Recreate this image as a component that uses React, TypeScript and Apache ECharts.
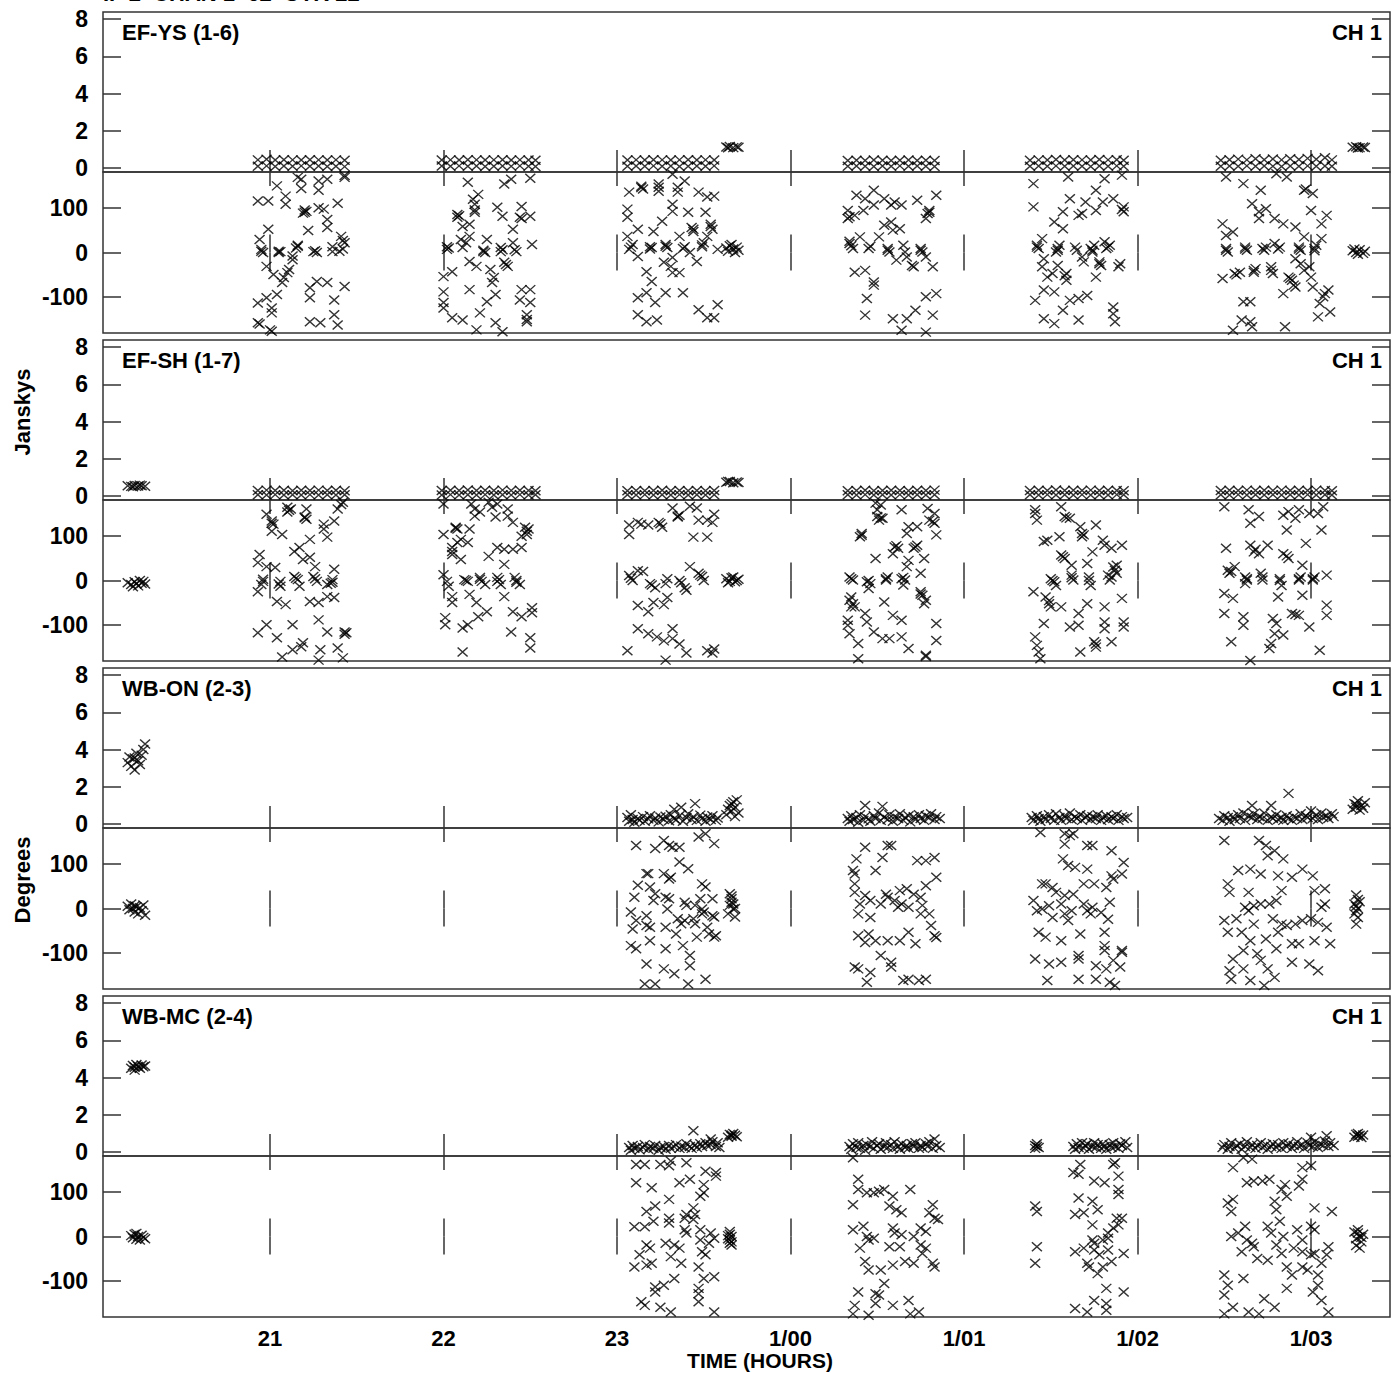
import React, { useEffect, useRef } from "react";
import * as echarts from "echarts";

const FONT = "'Liberation Sans', Arial, Helvetica, sans-serif";
const TITLE = "IF 2  CHAN 1  62  UTR 22";
const BASELINES = ["EF-YS (1-6)", "EF-SH (1-7)", "WB-ON (2-3)", "WB-MC (2-4)"];
const CHANNEL = "CH 1";
const X_TITLE = "TIME (HOURS)";
const AMP_TITLE = "Janskys";
const PHASE_TITLE = "Degrees";
const HOUR_TICKS = [21, 22, 23, 24, 25, 26, 27];
const HOUR_LABELS = ["21", "22", "23", "1/00", "1/01", "1/02", "1/03"];
const AMP_TICKS = [0, 2, 4, 6, 8];
const PHASE_TICKS = [-100, 0, 100];
const TIME_MIN = 20.0375;
const TIME_MAX = 27.455;
const AMP_MIN = -0.21;
const AMP_MAX = 8.38;
const PHASE_MIN = -180;
const PHASE_MAX = 180;

// ---- Panel 1: EF-YS (1-6) ----
// amplitude rows: [time, upper, lower]
const P1_AMP_ROWS = [
  [20.93,0.44,0.10],[20.98,0.47,0.12],[21.03,0.43,0.09],[21.08,0.45,0.11],[21.13,0.44,0.10],[21.18,0.43,0.12],[21.23,0.45,0.10],[21.28,0.44,0.11],[21.33,0.43,0.09],[21.38,0.44,0.10],[21.43,0.42,0.08],
  [21.99,0.43,0.11],[22.04,0.44,0.10],[22.09,0.43,0.12],[22.14,0.45,0.10],[22.19,0.44,0.11],[22.24,0.43,0.09],[22.29,0.44,0.10],[22.34,0.45,0.11],[22.39,0.43,0.10],[22.44,0.44,0.12],[22.49,0.43,0.10],[22.53,0.42,0.09],
  [23.06,0.43,0.10],[23.11,0.44,0.11],[23.16,0.43,0.10],[23.21,0.45,0.12],[23.26,0.44,0.10],[23.31,0.43,0.11],[23.36,0.44,0.09],[23.41,0.45,0.10],[23.46,0.43,0.11],[23.51,0.44,0.10],[23.56,0.43,0.12],
  [24.33,0.41,0.10],[24.38,0.42,0.11],[24.43,0.41,0.10],[24.48,0.43,0.09],[24.53,0.42,0.11],[24.58,0.41,0.10],[24.63,0.42,0.12],[24.68,0.43,0.10],[24.73,0.41,0.11],[24.78,0.42,0.10],[24.83,0.41,0.09],
  [25.38,0.42,0.10],[25.43,0.44,0.11],[25.48,0.43,0.10],[25.53,0.46,0.12],[25.58,0.43,0.10],[25.63,0.45,0.11],[25.68,0.44,0.10],[25.73,0.43,0.09],[25.78,0.46,0.11],[25.83,0.44,0.10],[25.88,0.45,0.12],[25.92,0.42,0.10],
  [26.48,0.42,0.10],[26.53,0.45,0.11],[26.58,0.48,0.10],[26.63,0.44,0.12],[26.68,0.50,0.10],[26.73,0.45,0.11],[26.78,0.49,0.10],[26.83,0.44,0.09],[26.88,0.50,0.11],[26.93,0.46,0.10],[26.98,0.52,0.12],[27.03,0.47,0.10],[27.08,0.55,0.11],[27.12,0.44,0.10]
];
const P1_AMP_EXTRA = [
  [23.63,1.13],[23.65,1.16],[23.67,1.10],[23.69,1.14],[23.70,1.12],[23.64,1.09],
  [27.24,1.12],[27.26,1.15],[27.28,1.10],[27.30,1.13],[27.31,1.11],[27.27,1.08]
];
const P1_PHASE = [
  [21.04,149],[21.16,168],[21.18,164],[21.18,143],[21.28,160],[21.33,164],[21.28,139],[20.93,115],[20.99,115],[21.09,126],[21.09,108],[21.20,90],[21.21,92],[21.19,88],[21.20,95],[21.28,100],[21.31,97],[21.39,110],[21.33,74],[21.33,56],[20.99,52],[20.94,29],[21.22,49],[20.95,7],[20.96,0],[20.95,3],[21.05,3],[21.06,2],[21.05,0],[21.16,14],[21.16,16],[21.15,10],[21.25,2],[21.27,0],[21.26,4],[21.36,2],[21.36,13],[21.41,36],[21.42,27],[21.43,22],[21.40,3],[21.42,8],[21.13,-8],[21.13,-16],[21.11,-38],[21.10,-45],[20.98,-31],[21.02,-49],[21.08,-56],[21.07,-67],[21.04,-94],[20.98,-101],[20.93,-113],[21.01,-124],[21.01,-135],[20.93,-157],[20.94,-160],[21.00,-173],[21.01,-176],[21.23,-79],[21.27,-65],[21.33,-67],[21.43,-76],[21.23,-101],[21.37,-106],[21.37,-139],[21.39,-162],[21.23,-155],[21.29,-157],[21.43,172],[21.43,168],
  [22.14,157],[22.35,153],[22.39,164],[22.50,166],[22.20,130],[22.17,119],[22.18,108],[22.18,90],[22.18,95],[22.08,85],[22.08,79],[22.09,82],[22.11,58],[22.15,63],[22.31,101],[22.45,103],[22.34,81],[22.44,79],[22.50,81],[22.45,76],[22.40,52],[22.15,36],[22.10,29],[22.02,13],[22.02,7],[22.03,10],[22.11,11],[22.13,22],[22.23,2],[22.24,0],[22.25,29],[22.23,5],[22.33,11],[22.33,2],[22.34,6],[22.40,22],[22.42,2],[22.41,6],[22.51,18],[22.15,-20],[22.19,-31],[22.27,-38],[22.29,-56],[22.28,-67],[22.35,-22],[22.37,-31],[22.36,-27],[22.00,-54],[22.05,-43],[22.00,-88],[22.00,-112],[22.00,-124],[22.05,-146],[22.11,-151],[22.15,-83],[22.21,-135],[22.25,-110],[22.30,-94],[22.30,-157],[22.45,-83],[22.50,-83],[22.44,-106],[22.50,-112],[22.48,-139],[22.48,-155],[22.48,-150],[22.19,-173],[22.34,-177],
  [23.07,135],[23.14,148],[23.15,142],[23.14,145],[23.24,146],[23.24,137],[23.24,153],[23.35,146],[23.35,135],[23.32,175],[23.39,160],[23.47,135],[23.52,124],[23.56,126],[23.06,97],[23.06,79],[23.32,108],[23.32,92],[23.41,90],[23.51,90],[23.26,70],[23.21,47],[23.12,52],[23.06,36],[23.36,36],[23.43,56],[23.44,47],[23.44,52],[23.54,63],[23.55,52],[23.52,36],[23.54,58],[23.09,18],[23.07,7],[23.08,12],[23.12,-9],[23.19,13],[23.20,11],[23.19,8],[23.28,18],[23.29,11],[23.28,14],[23.39,13],[23.38,9],[23.49,13],[23.50,22],[23.49,17],[23.58,7],[23.32,-11],[23.27,-22],[23.31,-31],[23.42,0],[23.46,-20],[23.17,-43],[23.20,-65],[23.32,-45],[23.36,-45],[23.12,-101],[23.17,-90],[23.22,-112],[23.28,-90],[23.38,-90],[23.12,-139],[23.17,-155],[23.23,-151],[23.47,-128],[23.52,-146],[23.56,-146],[23.58,-117],
  [23.63,10],[23.65,15],[23.67,8],[23.69,12],[23.70,5],[23.64,3],[23.66,18],[23.68,0],
  [24.38,128],[24.43,120],[24.48,139],[24.54,120],[24.58,106],[24.60,113],[24.64,106],[24.73,117],[24.84,128],[24.79,87],[24.80,94],[24.78,76],[24.80,90],[24.33,94],[24.33,76],[24.34,80],[24.37,83],[24.42,94],[24.48,106],[24.54,61],[24.58,68],[24.59,50],[24.63,53],[24.34,20],[24.35,15],[24.34,25],[24.36,9],[24.40,35],[24.45,9],[24.46,14],[24.51,35],[24.56,9],[24.57,1],[24.56,5],[24.61,-17],[24.65,16],[24.66,1],[24.67,-10],[24.70,-29],[24.71,-32],[24.75,9],[24.76,1],[24.75,5],[24.78,-10],[24.82,-32],[24.37,-44],[24.43,-40],[24.48,-66],[24.48,-73],[24.44,-103],[24.43,-140],[24.59,-148],[24.67,-148],[24.72,-129],[24.78,-99],[24.84,-92],[24.82,-140],[24.64,-174],[24.78,-178],
  [25.40,154],[25.40,102],[25.60,169],[25.76,139],[25.81,165],[25.91,173],[25.61,120],[25.70,113],[25.57,91],[25.66,83],[25.68,87],[25.76,94],[25.80,113],[25.86,120],[25.92,102],[25.92,91],[25.91,96],[25.52,68],[25.57,53],[25.42,16],[25.43,9],[25.42,12],[25.45,31],[25.54,9],[25.55,16],[25.53,1],[25.54,5],[25.64,12],[25.65,5],[25.73,9],[25.74,1],[25.75,16],[25.74,5],[25.81,24],[25.82,9],[25.84,16],[25.83,12],[25.46,-14],[25.45,-32],[25.48,-55],[25.51,-47],[25.54,-29],[25.59,-47],[25.59,-62],[25.58,-52],[25.69,-21],[25.68,-10],[25.78,-21],[25.79,-29],[25.78,-25],[25.90,-25],[25.89,-32],[25.76,-55],[25.41,-107],[25.46,-84],[25.52,-88],[25.61,-107],[25.66,-103],[25.71,-96],[25.57,-129],[25.46,-148],[25.52,-159],[25.66,-151],[25.86,-122],[25.86,-137],[25.87,-155],
  [26.51,169],[26.61,154],[26.71,139],[26.80,176],[26.86,169],[26.96,139],[26.97,142],[27.01,132],[26.66,109],[26.70,91],[26.74,98],[26.70,76],[26.79,76],[26.84,64],[27.00,94],[27.09,83],[27.06,64],[26.49,64],[26.51,38],[26.55,46],[26.91,57],[26.96,35],[27.06,31],[26.51,9],[26.52,1],[26.51,5],[26.62,12],[26.63,5],[26.62,8],[26.72,9],[26.74,12],[26.73,5],[26.79,20],[26.82,12],[26.81,8],[26.93,12],[26.94,5],[26.93,8],[27.02,9],[27.03,16],[27.02,4],[26.49,-58],[26.56,-47],[26.59,-44],[26.57,-50],[26.67,-44],[26.68,-36],[26.67,-40],[26.77,-32],[26.78,-47],[26.77,-40],[26.87,-55],[26.89,-62],[26.90,-73],[26.88,-58],[26.96,-40],[26.99,-32],[27.00,-55],[26.91,-14],[26.94,-25],[27.01,-77],[26.84,-92],[26.91,-77],[27.07,-99],[27.08,-92],[27.10,-84],[27.05,-114],[27.11,-133],[27.04,-144],[26.61,-110],[26.65,-110],[26.60,-151],[26.65,-155],[26.66,-166],[26.55,-174],[26.85,-166],
  [27.24,4],[27.26,0],[27.28,6],[27.30,-2],[27.31,3],[27.27,-4],[27.25,8]
];

// ---- Panel 2: EF-SH (1-7) ----
const P2_AMP_ROWS = [
  [20.93,0.30,0.07],[20.98,0.32,0.06],[21.03,0.30,0.08],[21.08,0.31,0.06],[21.13,0.29,0.07],[21.18,0.31,0.06],[21.23,0.30,0.08],[21.28,0.32,0.06],[21.33,0.30,0.07],[21.38,0.31,0.06],[21.43,0.29,0.07],
  [21.99,0.30,0.06],[22.04,0.31,0.08],[22.09,0.30,0.06],[22.14,0.33,0.07],[22.19,0.30,0.06],[22.24,0.31,0.08],[22.29,0.30,0.06],[22.34,0.32,0.07],[22.39,0.30,0.06],[22.44,0.31,0.08],[22.49,0.30,0.06],[22.53,0.29,0.07],
  [23.06,0.29,0.07],[23.11,0.30,0.06],[23.16,0.29,0.08],[23.21,0.30,0.06],[23.26,0.31,0.07],[23.31,0.29,0.06],[23.36,0.30,0.08],[23.41,0.29,0.06],[23.46,0.30,0.07],[23.51,0.29,0.06],[23.56,0.30,0.07],
  [24.33,0.29,0.07],[24.38,0.30,0.06],[24.43,0.31,0.08],[24.48,0.29,0.06],[24.53,0.30,0.07],[24.58,0.31,0.06],[24.63,0.30,0.08],[24.68,0.29,0.06],[24.73,0.31,0.07],[24.78,0.30,0.06],[24.83,0.32,0.07],
  [25.38,0.30,0.07],[25.43,0.31,0.06],[25.48,0.30,0.08],[25.53,0.33,0.06],[25.58,0.30,0.07],[25.63,0.31,0.06],[25.68,0.30,0.08],[25.73,0.32,0.06],[25.78,0.30,0.07],[25.83,0.31,0.06],[25.88,0.30,0.08],[25.92,0.29,0.07],
  [26.48,0.30,0.07],[26.53,0.31,0.06],[26.58,0.30,0.08],[26.63,0.32,0.06],[26.68,0.30,0.07],[26.73,0.31,0.06],[26.78,0.30,0.08],[26.83,0.32,0.06],[26.88,0.30,0.07],[26.93,0.31,0.06],[26.98,0.30,0.08],[27.03,0.32,0.06],[27.08,0.30,0.07],[27.12,0.29,0.06]
];
const P2_AMP_EXTRA = [
  [20.18,0.55],[20.20,0.52],[20.22,0.57],[20.24,0.54],[20.26,0.56],[20.28,0.53],[20.21,0.50],[20.25,0.59],
  [23.63,0.74],[23.65,0.78],[23.67,0.72],[23.69,0.76],[23.70,0.73],[23.64,0.79]
];
const P2_PHASE = [
  [20.18,-5],[20.20,-9],[20.22,-3],[20.24,-12],[20.26,-6],[20.28,-8],[20.21,-14],[20.25,0],[20.23,-7],[20.27,-2],
  [20.98,148],[21.01,133],[21.02,126],[21.01,110],[21.01,128],[21.07,103],[21.10,164],[21.12,160],[21.10,153],[21.11,157],[21.21,160],[21.20,142],[21.21,137],[21.20,140],[21.31,126],[21.31,115],[21.33,97],[21.37,133],[21.39,160],[21.42,175],[21.41,170],[21.23,92],[20.94,58],[20.93,40],[20.98,31],[21.03,29],[21.14,65],[21.17,74],[21.19,47],[21.23,52],[21.26,31],[20.96,-2],[20.95,-9],[20.93,-25],[20.96,3],[21.06,-2],[21.06,-13],[21.05,-8],[21.14,9],[21.16,2],[21.17,-13],[21.15,5],[21.25,9],[21.27,-2],[21.26,4],[21.33,-9],[21.36,-4],[21.36,2],[21.37,25],[21.35,-6],[21.04,-47],[21.09,-54],[21.23,-47],[21.28,-49],[21.33,-36],[21.37,-38],[20.93,-117],[20.98,-99],[21.04,-128],[21.13,-99],[21.28,-88],[21.33,-115],[21.43,-115],[21.44,-117],[21.43,-120],[21.07,-171],[21.13,-155],[21.18,-148],[21.19,-139],[21.28,-178],[21.29,-155],[21.39,-151],[21.42,-173],
  [22.00,171],[22.00,103],[22.05,74],[22.05,65],[22.08,85],[22.10,92],[22.14,85],[22.15,115],[22.05,58],[22.10,47],[22.07,119],[22.08,115],[22.07,117],[22.16,171],[22.18,160],[22.18,144],[22.21,153],[22.26,175],[22.28,164],[22.30,142],[22.31,171],[22.37,160],[22.37,144],[22.40,130],[22.47,119],[22.49,115],[22.45,99],[22.48,103],[22.48,110],[22.26,54],[22.31,74],[22.35,70],[22.40,70],[22.45,74],[22.35,36],[22.00,13],[22.02,-2],[22.03,-13],[22.05,-36],[22.05,-49],[22.12,2],[22.14,-2],[22.13,0],[22.21,7],[22.22,-2],[22.24,-9],[22.21,3],[22.31,7],[22.31,-2],[22.33,-9],[22.32,2],[22.41,7],[22.42,-4],[22.44,-9],[22.42,0],[22.15,-31],[22.19,-49],[22.25,-70],[22.35,-36],[22.01,-83],[22.01,-99],[22.11,-106],[22.14,-99],[22.20,-81],[22.40,-70],[22.45,-81],[22.51,-61],[22.51,-72],[22.39,-115],[22.50,-128],[22.50,-151],[22.11,-160],
  [23.07,124],[23.07,103],[23.12,130],[23.14,126],[23.18,124],[23.24,130],[23.26,119],[23.25,127],[23.32,162],[23.35,142],[23.36,146],[23.35,144],[23.42,166],[23.46,162],[23.47,135],[23.52,135],[23.55,130],[23.56,148],[23.44,97],[23.52,97],[23.42,31],[23.47,16],[23.49,9],[23.50,0],[23.48,12],[23.07,11],[23.09,0],[23.12,22],[23.15,20],[23.08,5],[23.19,-7],[23.22,-16],[23.20,-10],[23.29,4],[23.28,-7],[23.36,0],[23.39,-16],[23.40,-22],[23.37,-5],[23.12,-56],[23.18,-70],[23.21,-49],[23.27,-54],[23.29,-38],[23.12,-108],[23.18,-119],[23.23,-126],[23.27,-135],[23.32,-108],[23.32,-130],[23.06,-157],[23.36,-142],[23.40,-162],[23.28,-178],[23.52,-157],[23.56,-153],[23.55,-162],
  [23.63,4],[23.65,-2],[23.67,8],[23.69,0],[23.70,3],[23.64,-5],[23.66,6],[23.68,-3],
  [24.49,173],[24.50,158],[24.52,169],[24.50,143],[24.51,135],[24.53,139],[24.52,140],[24.64,158],[24.79,161],[24.83,150],[24.80,135],[24.83,128],[24.82,132],[24.41,105],[24.40,98],[24.41,101],[24.84,102],[24.68,120],[24.73,120],[24.67,105],[24.60,75],[24.62,72],[24.61,78],[24.71,72],[24.73,79],[24.72,75],[24.49,49],[24.59,60],[24.68,45],[24.67,31],[24.77,49],[24.75,16],[24.34,8],[24.36,1],[24.35,4],[24.35,-37],[24.44,-3],[24.46,-7],[24.45,-18],[24.45,0],[24.55,1],[24.56,8],[24.55,4],[24.64,4],[24.66,1],[24.65,-10],[24.65,7],[24.75,-25],[24.76,-33],[24.75,-30],[24.34,-44],[24.35,-59],[24.37,-59],[24.36,-52],[24.43,-74],[24.44,-93],[24.33,-89],[24.33,-100],[24.34,-119],[24.54,-48],[24.59,-78],[24.64,-89],[24.78,-44],[24.77,-52],[24.84,-96],[24.84,-134],[24.48,-115],[24.53,-130],[24.57,-130],[24.64,-126],[24.39,-141],[24.68,-152],[24.39,-175],[24.78,-167],[24.78,-170],
  [25.41,158],[25.42,135],[25.41,150],[25.56,165],[25.58,143],[25.61,139],[25.59,140],[25.67,120],[25.69,102],[25.68,98],[25.68,105],[25.76,124],[25.48,90],[25.46,87],[25.55,98],[25.80,90],[25.81,79],[25.85,72],[25.91,79],[25.56,57],[25.58,49],[25.57,53],[25.62,34],[25.71,38],[25.74,64],[25.88,34],[25.87,23],[25.86,30],[25.50,4],[25.52,-3],[25.53,-11],[25.51,0],[25.62,12],[25.63,1],[25.62,6],[25.72,8],[25.73,-11],[25.72,0],[25.83,12],[25.84,1],[25.88,16],[25.85,8],[25.40,-25],[25.47,-37],[25.49,-52],[25.50,-59],[25.49,-45],[25.56,-59],[25.71,-52],[25.81,-59],[25.91,-40],[25.66,-74],[25.61,-104],[25.66,-100],[25.81,-93],[25.81,-108],[25.92,-93],[25.92,-104],[25.46,-96],[25.41,-126],[25.42,-145],[25.43,-160],[25.44,-175],[25.67,-160],[25.75,-137],[25.76,-149],[25.85,-137],[25.76,-142],
  [26.50,165],[26.64,158],[26.70,143],[26.65,128],[26.84,146],[26.87,154],[26.91,139],[26.93,158],[26.99,150],[27.04,150],[27.07,165],[27.06,113],[26.86,113],[26.51,72],[26.65,79],[26.67,64],[26.70,60],[26.68,70],[26.75,79],[26.84,60],[26.87,49],[26.86,55],[26.97,83],[26.95,34],[27.09,12],[26.52,23],[26.53,16],[26.56,31],[26.54,20],[26.62,8],[26.63,1],[26.62,-7],[26.63,4],[26.71,16],[26.72,1],[26.72,8],[26.82,4],[26.83,-11],[26.82,0],[26.93,1],[26.94,8],[26.93,4],[27.01,1],[27.02,8],[27.01,4],[26.50,-29],[26.55,-40],[26.81,-37],[26.95,-33],[26.50,-74],[26.61,-81],[26.61,-100],[26.78,-85],[26.80,-96],[26.79,-119],[26.89,-74],[26.93,-78],[26.91,-76],[27.09,-55],[27.09,-78],[26.99,-104],[26.54,-137],[26.77,-141],[26.76,-152],[26.84,-122],[27.05,-156],[26.65,-179]
];

// ---- Panel 3: WB-ON (2-3) ----
const P3_AMP = [
  [20.18,3.3],[20.19,3.6],[20.20,3.1],[20.21,3.5],[20.22,2.9],[20.23,3.8],[20.24,3.4],[20.25,3.2],[20.26,3.7],[20.27,4.0],[20.28,4.3],[20.22,3.55],
  [23.06,0.35],[23.07,0.15],[23.08,0.5],[23.09,0.25],[23.10,0.1],[23.12,0.3],[23.13,0.2],[23.15,0.4],[23.16,0.15],[23.18,0.28],[23.19,0.45],[23.21,0.2],[23.22,0.33],[23.24,0.12],[23.25,0.38],[23.27,0.25],[23.28,0.42],[23.30,0.18],[23.31,0.5],[23.33,0.3],[23.33,0.8],[23.34,0.22],[23.36,0.45],[23.37,0.9],[23.38,0.15],[23.40,0.35],[23.41,0.55],[23.43,0.25],[23.44,0.4],[23.45,1.1],[23.46,0.2],[23.48,0.48],[23.49,0.3],[23.51,0.15],[23.52,0.38],[23.54,0.25],[23.55,0.45],[23.57,0.2],[23.58,0.33],
  [23.63,0.5],[23.64,0.8],[23.65,1.0],[23.66,0.7],[23.67,1.2],[23.68,0.9],[23.69,1.3],[23.70,0.6],[23.66,1.1],[23.68,0.4],
  [24.33,0.3],[24.34,0.15],[24.35,0.45],[24.36,0.25],[24.38,0.35],[24.39,0.1],[24.40,0.5],[24.42,0.2],[24.43,0.4],[24.43,1.0],[24.45,0.28],[24.46,0.15],[24.48,0.45],[24.49,0.3],[24.51,0.6],[24.52,0.2],[24.53,0.95],[24.54,0.38],[24.56,0.25],[24.57,0.5],[24.59,0.15],[24.60,0.4],[24.62,0.3],[24.63,0.55],[24.65,0.2],[24.66,0.35],[24.68,0.45],[24.69,0.12],[24.71,0.4],[24.72,0.25],[24.74,0.5],[24.75,0.3],[24.77,0.2],[24.78,0.45],[24.80,0.35],[24.81,0.55],[24.83,0.25],[24.84,0.4],[24.86,0.3],
  [25.39,0.35],[25.40,0.2],[25.42,0.45],[25.43,0.3],[25.44,0.15],[25.46,0.4],[25.47,0.25],[25.49,0.5],[25.50,0.3],[25.52,0.2],[25.53,0.55],[25.55,0.35],[25.56,0.2],[25.58,0.45],[25.59,0.3],[25.61,0.6],[25.62,0.25],[25.64,0.4],[25.65,0.3],[25.67,0.5],[25.68,0.2],[25.70,0.35],[25.71,0.45],[25.73,0.25],[25.74,0.4],[25.76,0.3],[25.77,0.5],[25.79,0.2],[25.80,0.35],[25.82,0.45],[25.83,0.25],[25.85,0.4],[25.86,0.3],[25.88,0.5],[25.89,0.2],[25.91,0.4],[25.92,0.3],[25.94,0.35],
  [26.47,0.3],[26.49,0.2],[26.50,0.45],[26.52,0.35],[26.53,0.15],[26.55,0.4],[26.56,0.25],[26.58,0.5],[26.59,0.3],[26.61,0.6],[26.62,0.2],[26.64,0.45],[26.66,1.0],[26.66,0.35],[26.67,0.55],[26.69,0.25],[26.70,0.4],[26.72,0.3],[26.73,0.6],[26.75,0.2],[26.77,1.0],[26.77,0.4],[26.78,0.3],[26.80,0.5],[26.81,0.25],[26.83,0.35],[26.84,0.2],[26.86,0.45],[26.87,1.65],[26.87,0.3],[26.89,0.2],[26.90,0.4],[26.92,0.3],[26.94,0.55],[26.95,0.25],[26.97,0.45],[26.98,0.35],[27.00,0.7],[27.01,0.3],[27.03,0.5],[27.04,0.25],[27.06,0.6],[27.07,0.35],[27.09,0.45],[27.10,0.3],[27.12,0.55],[27.13,0.4],
  [27.24,0.8],[27.25,1.1],[27.26,0.9],[27.27,1.25],[27.28,0.75],[27.29,1.0],[27.30,0.85],[27.31,1.15],[27.26,1.05]
];
const P3_PHASE = [
  [20.18,5],[20.19,-3],[20.20,10],[20.21,0],[20.22,-8],[20.23,4],[20.24,-12],[20.25,2],[20.26,-5],[20.27,8],[20.28,-15],[20.22,6],
  [23.11,141],[23.22,134],[23.27,152],[23.30,141],[23.32,137],[23.36,137],[23.47,160],[23.51,167],[23.56,145],[23.36,104],[23.41,89],[23.18,78],[23.17,78],[23.27,78],[23.30,66],[23.31,70],[23.12,52],[23.19,48],[23.22,33],[23.10,25],[23.21,18],[23.28,25],[23.29,-1],[23.30,22],[23.39,14],[23.40,7],[23.45,7],[23.48,22],[23.49,55],[23.51,48],[23.55,22],[23.56,-19],[23.49,-1],[23.50,-8],[23.49,-12],[23.08,-8],[23.11,-27],[23.17,-16],[23.17,-38],[23.19,-42],[23.19,-72],[23.09,-46],[23.28,-42],[23.35,-23],[23.37,-34],[23.39,-27],[23.34,-57],[23.44,-23],[23.45,-34],[23.46,-64],[23.52,-42],[23.53,-57],[23.55,-16],[23.56,-64],[23.57,-61],[23.08,-83],[23.11,-90],[23.28,-90],[23.38,-83],[23.42,-105],[23.17,-124],[23.27,-135],[23.33,-146],[23.42,-128],[23.51,-158],[23.16,-169],[23.22,-169],[23.41,-169],
  [23.65,33],[23.66,22],[23.65,7],[23.67,-1],[23.64,-12],[23.68,-19],[23.66,14],[23.67,10],[23.68,0],[23.66,28],
  [24.43,137],[24.56,141],[24.58,141],[24.53,114],[24.38,111],[24.49,85],[24.36,85],[24.37,77],[24.37,55],[24.37,36],[24.73,107],[24.78,107],[24.83,114],[24.84,70],[24.78,51],[24.67,44],[24.63,40],[24.71,32],[24.75,25],[24.43,29],[24.46,18],[24.55,32],[24.56,25],[24.40,10],[24.39,-12],[24.46,-20],[24.52,10],[24.60,18],[24.62,3],[24.64,10],[24.68,3],[24.75,-12],[24.76,7],[24.81,-38],[24.80,-12],[24.39,-61],[24.45,-57],[24.43,-76],[24.49,-72],[24.56,-72],[24.63,-72],[24.68,-53],[24.72,-79],[24.83,-61],[24.84,-65],[24.52,-105],[24.58,-120],[24.37,-131],[24.39,-135],[24.46,-143],[24.58,-131],[24.44,-165],[24.65,-161],[24.68,-158],[24.74,-161],[24.78,-158],
  [25.44,170],[25.58,167],[25.61,163],[25.63,167],[25.58,144],[25.71,141],[25.74,141],[25.85,129],[25.92,103],[25.57,111],[25.60,96],[25.64,92],[25.71,88],[25.45,55],[25.47,55],[25.51,47],[25.53,36],[25.58,29],[25.63,32],[25.69,55],[25.75,55],[25.82,47],[25.85,73],[25.86,66],[25.91,77],[25.40,18],[25.42,-5],[25.45,-1],[25.49,6],[25.51,-20],[25.56,10],[25.58,-12],[25.60,-27],[25.62,-5],[25.69,10],[25.71,-5],[25.73,-12],[25.74,3],[25.79,-9],[25.83,-24],[25.84,14],[25.43,-53],[25.47,-64],[25.56,-72],[25.67,-57],[25.81,-53],[25.81,-83],[25.81,-94],[25.91,-98],[25.41,-113],[25.49,-124],[25.56,-120],[25.66,-105],[25.66,-113],[25.76,-128],[25.82,-135],[25.86,-116],[25.90,-131],[25.91,-94],[25.48,-161],[25.66,-158],[25.76,-158],[25.84,-165],[25.87,-172],
  [26.50,152],[26.70,152],[26.74,141],[26.79,129],[26.84,111],[26.75,118],[26.52,55],[26.53,36],[26.58,85],[26.65,88],[26.71,77],[26.81,73],[26.89,70],[26.95,88],[27.01,73],[26.64,36],[26.83,40],[27.02,40],[27.08,44],[26.62,3],[26.64,-5],[26.67,6],[26.71,10],[26.76,10],[26.80,18],[27.08,10],[27.06,3],[26.50,-27],[26.57,-23],[26.67,-35],[26.78,-23],[26.83,-35],[26.86,-38],[26.91,-35],[26.95,-27],[27.00,-23],[27.04,-31],[27.09,-42],[26.52,-53],[26.60,-53],[26.65,-72],[26.74,-68],[26.81,-53],[26.89,-79],[26.93,-79],[27.02,-72],[27.11,-79],[26.55,-113],[26.61,-94],[26.69,-101],[26.71,-116],[26.80,-90],[26.53,-139],[26.61,-135],[26.75,-135],[26.89,-120],[26.99,-124],[27.04,-139],[26.54,-158],[26.65,-161],[26.73,-172],[26.79,-154],
  [27.26,30],[27.27,20],[27.25,10],[27.26,5],[27.27,0],[27.26,-5],[27.25,-12],[27.27,-20],[27.26,-35],[27.28,15]
];

// ---- Panel 4: WB-MC (2-4) ----
const P4_AMP = [
  [20.20,4.5],[20.21,4.65],[20.22,4.55],[20.23,4.7],[20.24,4.6],[20.25,4.5],[20.26,4.68],[20.27,4.58],[20.28,4.62],[20.22,4.4],
  [23.07,0.25],[23.08,0.1],[23.09,0.35],[23.10,0.2],[23.12,0.3],[23.13,0.12],[23.15,0.25],[23.16,0.4],[23.18,0.15],[23.19,0.3],[23.21,0.2],[23.22,0.35],[23.24,0.1],[23.25,0.25],[23.27,0.3],[23.28,0.15],[23.30,0.35],[23.31,0.2],[23.33,0.28],[23.34,0.4],[23.36,0.2],[23.37,0.32],[23.39,0.25],[23.40,0.45],[23.42,0.3],[23.43,0.2],[23.44,1.15],[23.45,0.38],[23.46,0.25],[23.48,0.45],[23.49,0.3],[23.51,0.5],[23.52,0.35],[23.54,0.7],[23.54,0.4],[23.55,0.55],[23.57,0.3],[23.58,0.5],[23.59,0.25],
  [23.64,0.8],[23.65,0.95],[23.66,0.85],[23.67,1.0],[23.68,0.9],[23.69,0.82],[23.66,0.92],
  [24.34,0.3],[24.35,0.15],[24.36,0.45],[24.38,0.25],[24.39,0.5],[24.40,0.2],[24.42,0.35],[24.43,0.1],[24.44,0.4],[24.46,0.3],[24.47,0.55],[24.48,0.2],[24.50,0.35],[24.51,0.45],[24.52,0.15],[24.54,0.3],[24.55,0.5],[24.56,0.25],[24.58,0.4],[24.59,0.2],[24.60,0.55],[24.62,0.3],[24.63,0.15],[24.64,0.45],[24.66,0.25],[24.67,0.35],[24.68,0.2],[24.70,0.45],[24.71,0.3],[24.72,0.5],[24.74,0.2],[24.75,0.35],[24.76,0.25],[24.78,0.45],[24.79,0.3],[24.80,0.55],[24.82,0.2],[24.83,0.7],[24.84,0.35],[24.86,0.25],
  [25.41,0.2],[25.42,0.45],[25.42,0.3],[25.41,0.35],[25.43,0.25],
  [25.63,0.3],[25.64,0.15],[25.65,0.45],[25.66,0.25],[25.68,0.5],[25.69,0.2],[25.70,0.35],[25.71,0.45],[25.72,0.15],[25.74,0.3],[25.75,0.5],[25.76,0.25],[25.77,0.4],[25.79,0.2],[25.80,0.45],[25.81,0.3],[25.82,0.15],[25.84,0.4],[25.85,0.25],[25.86,0.5],[25.87,0.3],[25.89,0.2],[25.90,0.45],[25.91,0.35],[25.93,0.55],[25.94,0.25],
  [26.49,0.25],[26.50,0.4],[26.52,0.15],[26.53,0.3],[26.54,0.5],[26.56,0.2],[26.57,0.35],[26.59,0.45],[26.60,0.15],[26.62,0.3],[26.63,0.55],[26.65,0.25],[26.66,0.4],[26.68,0.2],[26.69,0.35],[26.71,0.5],[26.72,0.25],[26.74,0.4],[26.75,0.15],[26.77,0.3],[26.78,0.45],[26.80,0.25],[26.81,0.4],[26.83,0.2],[26.84,0.5],[26.86,0.3],[26.87,0.45],[26.89,0.2],[26.90,0.35],[26.92,0.55],[26.93,0.3],[26.95,0.4],[26.96,0.2],[26.98,0.5],[26.99,0.35],[27.00,0.8],[27.01,0.3],[27.02,0.55],[27.04,0.25],[27.05,0.45],[27.07,0.35],[27.08,0.6],[27.09,0.88],[27.10,0.3],[27.11,0.5],[27.13,0.35],
  [27.25,0.8],[27.26,0.95],[27.27,0.85],[27.28,0.9],[27.29,0.78],[27.30,0.92],[27.27,1.0]
];
const P4_PHASE = [
  [20.20,2],[20.21,-3],[20.22,5],[20.23,-6],[20.24,0],[20.25,-8],[20.26,3],[20.27,-2],[20.28,-5],[20.23,7],
  [23.11,161],[23.16,161],[23.25,161],[23.30,158],[23.31,169],[23.40,165],[23.51,146],[23.57,143],[23.57,135],[23.11,120],[23.20,109],[23.36,120],[23.42,128],[23.50,116],[23.50,98],[23.48,90],[23.30,83],[23.22,68],[23.17,56],[23.44,64],[23.45,49],[23.10,22],[23.16,22],[23.21,34],[23.30,41],[23.30,30],[23.39,41],[23.40,49],[23.44,38],[23.48,15],[23.39,15],[23.40,8],[23.54,8],[23.56,-4],[23.53,-15],[23.17,-19],[23.19,-26],[23.28,-15],[23.33,-19],[23.36,-26],[23.31,-45],[23.37,-60],[23.48,-8],[23.51,-41],[23.49,-34],[23.13,-41],[23.10,-68],[23.17,-64],[23.20,-60],[23.47,-68],[23.22,-113],[23.27,-109],[23.33,-94],[23.47,-116],[23.50,-94],[23.56,-90],[23.22,-124],[23.47,-128],[23.47,-146],[23.14,-146],[23.16,-154],[23.25,-158],[23.31,-169],[23.56,-169],
  [23.65,11],[23.65,5],[23.66,0],[23.64,-5],[23.65,-8],[23.66,-12],[23.65,-15],[23.66,-19],[23.64,2],
  [24.36,176],[24.39,128],[24.39,105],[24.44,98],[24.48,98],[24.51,101],[24.54,105],[24.59,90],[24.69,105],[24.36,71],[24.57,68],[24.61,60],[24.64,53],[24.80,53],[24.82,71],[24.85,38],[24.83,41],[24.42,23],[24.36,15],[24.44,0],[24.45,-8],[24.40,-26],[24.48,-4],[24.59,19],[24.60,8],[24.64,4],[24.71,0],[24.75,19],[24.78,11],[24.57,-23],[24.63,-23],[24.75,-19],[24.78,-26],[24.76,-38],[24.43,-56],[24.45,-75],[24.52,-75],[24.59,-64],[24.66,-56],[24.71,-60],[24.82,-60],[24.83,-68],[24.54,-105],[24.39,-124],[24.49,-128],[24.51,-131],[24.37,-154],[24.49,-150],[24.59,-154],[24.68,-143],[24.36,-173],[24.45,-176],[24.69,-173],[24.74,-169],
  [25.41,68],[25.42,56],[25.42,-23],[25.41,-60],
  [25.67,161],[25.86,161],[25.87,165],[25.63,143],[25.66,139],[25.75,124],[25.81,120],[25.89,135],[25.89,105],[25.89,94],[25.66,86],[25.74,79],[25.64,49],[25.69,53],[25.77,60],[25.74,26],[25.88,41],[25.91,41],[25.89,26],[25.86,19],[25.83,8],[25.74,-8],[25.75,-15],[25.80,-8],[25.83,-4],[25.64,-34],[25.69,-26],[25.75,-30],[25.83,-30],[25.92,-38],[25.78,-41],[25.71,-60],[25.72,-68],[25.77,-83],[25.85,-56],[25.80,-68],[25.82,-116],[25.92,-124],[25.75,-143],[25.82,-150],[25.64,-161],[25.71,-169],[25.82,-165],
  [26.55,154],[26.61,176],[26.66,173],[27.00,158],[26.95,154],[26.63,120],[26.67,124],[26.72,124],[26.76,128],[26.85,116],[26.83,105],[26.93,113],[26.95,128],[26.52,75],[26.55,83],[26.54,56],[26.79,79],[26.80,60],[26.86,90],[27.02,64],[27.12,56],[26.54,0],[26.58,8],[26.62,23],[26.63,-8],[26.66,-15],[26.75,23],[26.77,8],[26.82,34],[26.84,0],[26.92,15],[26.95,-8],[27.00,23],[27.02,15],[26.60,-34],[26.67,-23],[26.69,-49],[26.75,-53],[26.80,-19],[26.83,-38],[26.90,-26],[26.95,-34],[27.00,-41],[27.02,-38],[27.09,-41],[27.10,-23],[26.86,-68],[26.89,-86],[26.95,-68],[26.98,-75],[27.04,-86],[27.06,-60],[26.50,-86],[26.52,-109],[26.61,-94],[26.86,-116],[27.04,-109],[27.01,-124],[27.06,-143],[26.50,-131],[26.55,-158],[26.73,-139],[26.79,-158],[26.50,-173],[26.64,-169],[26.70,-173],[27.10,-169],
  [27.25,10],[27.26,-5],[27.27,15],[27.28,0],[27.29,-12],[27.30,5],[27.26,-20],[27.28,-26],[27.27,8],[27.29,-2]
];

const rowsToPoints = (rows: number[][]) =>
  rows.flatMap((r) => [[r[0], r[1]], [r[0], r[2]]]);

const PANELS = [
  { amp: [...rowsToPoints(P1_AMP_ROWS), ...P1_AMP_EXTRA], phase: P1_PHASE },
  { amp: [...rowsToPoints(P2_AMP_ROWS), ...P2_AMP_EXTRA], phase: P2_PHASE },
  { amp: P3_AMP, phase: P3_PHASE },
  { amp: P4_AMP, phase: P4_PHASE },
];

const LEFT = 103;
const WIDTH = 1287;
const STEP = 328;
const AMP_TOP = 12;
const AMP_H = 160;
const PH_TOP = 172;
const PH_H = 161;
const FRAME = "#333";
const MARK = "path://M0,0L10,10M10,0L0,10";

function hourLabel(v: number) {
  const i = HOUR_TICKS.indexOf(Math.round(v));
  return i >= 0 ? HOUR_LABELS[i] : "";
}

function buildOption() {
  const grid: any[] = [];
  const xAxis: any[] = [];
  const yAxis: any[] = [];
  const series: any[] = [];
  const graphic: any[] = [];
  const labelFont = { fontSize: 22, fontWeight: "bold", fontFamily: FONT, color: "#000" };
  const tickStyle = { color: FRAME, width: 1.5 };

  PANELS.forEach((p, k) => {
    [0, 1].forEach((sub) => {
      const g = k * 2 + sub;
      const isAmp = sub === 0;
      grid.push({
        left: LEFT,
        width: WIDTH,
        top: (isAmp ? AMP_TOP : PH_TOP) + k * STEP,
        height: isAmp ? AMP_H : PH_H,
        show: true,
        borderColor: FRAME,
        borderWidth: 1.5,
        backgroundColor: "transparent",
        containLabel: false,
        outerBoundsMode: "none",
      });
      ["bottom", "top"].forEach((pos) => {
        const showLabel = g === 7 && pos === "bottom";
        xAxis.push({
          type: "value",
          gridIndex: g,
          position: pos,
          min: TIME_MIN,
          max: TIME_MAX,
          axisLine: { show: false },
          splitLine: { show: false },
          axisTick: { show: true, inside: true, length: 18, customValues: HOUR_TICKS, lineStyle: tickStyle },
          axisLabel: {
            show: showLabel,
            customValues: HOUR_TICKS,
            formatter: (v: number) => hourLabel(v),
            margin: 10,
            ...labelFont,
          },
        });
      });
      const ticks = isAmp ? AMP_TICKS : PHASE_TICKS;
      ["left", "right"].forEach((pos) => {
        yAxis.push({
          type: "value",
          gridIndex: g,
          position: pos,
          min: isAmp ? AMP_MIN : PHASE_MIN,
          max: isAmp ? AMP_MAX : PHASE_MAX,
          axisLine: { show: false },
          splitLine: { show: false },
          axisTick: { show: true, inside: true, length: 18, customValues: ticks, lineStyle: tickStyle },
          axisLabel: {
            show: pos === "left",
            customValues: ticks,
            margin: 15,
            ...labelFont,
            fontSize: 23,
          },
        });
      });
      series.push({
        type: "scatter",
        xAxisIndex: g * 2,
        yAxisIndex: g * 2,
        data: isAmp ? p.amp : p.phase,
        symbol: MARK,
        symbolSize: [10, 9],
        silent: true,
        itemStyle: { color: "rgba(0,0,0,0)", borderColor: "#000", borderWidth: 1.4 },
        emphasis: { disabled: true },
      });
    });
    graphic.push({
      type: "text",
      x: 122,
      y: 32 + k * STEP,
      silent: true,
      style: { text: BASELINES[k], font: `bold 22px ${FONT}`, fill: "#000", align: "left", verticalAlign: "middle" },
    });
    graphic.push({
      type: "text",
      x: 1382,
      y: 32 + k * STEP,
      silent: true,
      style: { text: CHANNEL, font: `bold 22px ${FONT}`, fill: "#000", align: "right", verticalAlign: "middle" },
    });
  });

  graphic.push({
    type: "text", x: 103, y: 4, silent: true,
    style: { text: TITLE, font: `bold 22px ${FONT}`, fill: "#000", align: "left", verticalAlign: "bottom" },
  });
  graphic.push({
    type: "text", x: 22, y: 412, rotation: Math.PI / 2, silent: true,
    style: { text: AMP_TITLE, font: `bold 22px ${FONT}`, fill: "#000", align: "center", verticalAlign: "middle" },
  });
  graphic.push({
    type: "text", x: 22, y: 880, rotation: Math.PI / 2, silent: true,
    style: { text: PHASE_TITLE, font: `bold 22px ${FONT}`, fill: "#000", align: "center", verticalAlign: "middle" },
  });
  graphic.push({
    type: "text", x: 760, y: 1360, silent: true,
    style: { text: X_TITLE, font: `bold 21px ${FONT}`, fill: "#000", align: "center", verticalAlign: "middle" },
  });

  return {
    animation: false,
    backgroundColor: "#fff",
    grid,
    xAxis,
    yAxis,
    series,
    graphic,
  };
}

export default function App() {
  const ref = useRef<HTMLDivElement>(null);
  useEffect(() => {
    if (!ref.current) return;
    const chart = echarts.init(ref.current, undefined, { renderer: "svg" });
    chart.setOption(buildOption() as any);
    return () => chart.dispose();
  }, []);
  return (
    <div
      ref={ref}
      style={{ position: "absolute", left: 0, top: 0, width: 1394, height: 1373, background: "#fff" }}
    />
  );
}
